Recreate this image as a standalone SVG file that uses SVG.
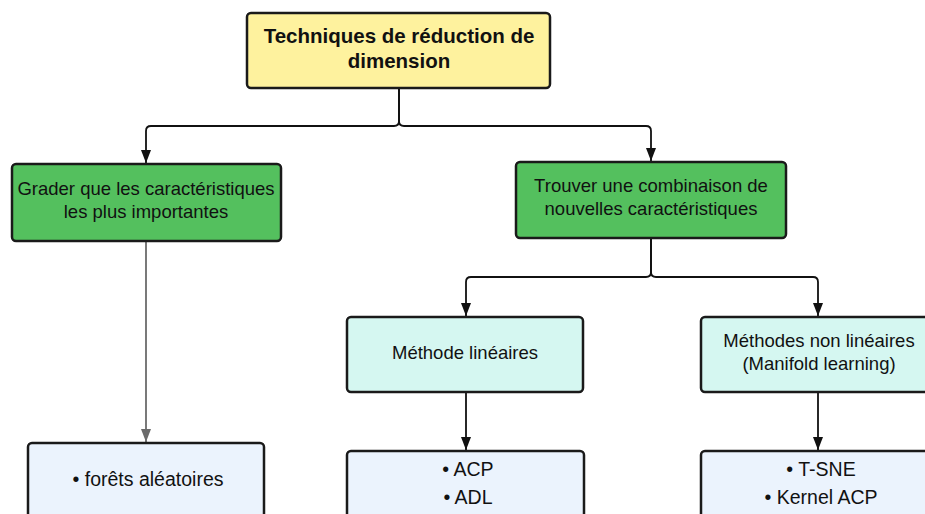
<svg xmlns="http://www.w3.org/2000/svg" width="925" height="514" viewBox="0 0 925 514">
  <defs>
    <style>
      .box { stroke: #1a1a1a; stroke-width: 2.5; }
      .root { fill: #fef29e; }
      .green { fill: #54c05e; }
      .cyan { fill: #d5f7f1; }
      .leaf { fill: #ebf3fd; }
      text { font-family: "Liberation Sans", Arial, sans-serif; font-size: 18.5px; fill: #111; text-anchor: middle; }
      .title { font-weight: bold; font-size: 20.5px; }
      .item { font-size: 19.5px; }
      .edge { fill: none; stroke: #111; stroke-width: 1.8; }
      .edge.grey { stroke: #6b6b6b; }
    </style>
    <marker id="arrow" viewBox="0 0 13 10" refX="13" refY="5" markerWidth="13" markerHeight="10" markerUnits="userSpaceOnUse" orient="auto">
      <path d="M0,0 L13,5 L0,10 z" fill="#111"/>
    </marker>
    <marker id="arrowGrey" viewBox="0 0 13 10" refX="13" refY="5" markerWidth="13" markerHeight="10" markerUnits="userSpaceOnUse" orient="auto">
      <path d="M0,0 L13,5 L0,10 z" fill="#6b6b6b"/>
    </marker>
  </defs>

  <g id="connectors">
    <path class="edge" d="M399,88 V121 Q399,126 394,126 H151 Q146,126 146,131 V163" marker-end="url(#arrow)"/>
    <path class="edge" d="M399,88 V121 Q399,126 404,126 H646 Q651,126 651,131 V161" marker-end="url(#arrow)"/>
    <path class="edge grey" d="M146,241 V442" marker-end="url(#arrowGrey)"/>
    <path class="edge" d="M651,238 V272 Q651,277 646,277 H471 Q466,277 466,282 V316" marker-end="url(#arrow)"/>
    <path class="edge" d="M651,238 V272 Q651,277 656,277 H813 Q818,277 818,282 V316" marker-end="url(#arrow)"/>
    <path class="edge" d="M466,392 V450" marker-end="url(#arrow)"/>
    <path class="edge" d="M818,392 V450" marker-end="url(#arrow)"/>
  </g>

  <g id="root">
    <rect class="box root" x="247" y="13" width="303" height="75" rx="4"/>
    <text class="title" x="399" y="43">Techniques de réduction de</text>
    <text class="title" x="399" y="68">dimension</text>
  </g>

  <g id="grader">
    <rect class="box green" x="12" y="164" width="269" height="77" rx="4"/>
    <text x="146" y="195">Grader que les caractéristiques</text>
    <text x="146" y="218">les plus importantes</text>
  </g>

  <g id="combinaison">
    <rect class="box green" x="516" y="162" width="270" height="76" rx="4"/>
    <text x="651" y="192">Trouver une combinaison de</text>
    <text x="651" y="215">nouvelles caractéristiques</text>
  </g>

  <g id="lineaires">
    <rect class="box cyan" x="347" y="317" width="236" height="75" rx="4"/>
    <text x="465" y="359">Méthode linéaires</text>
  </g>

  <g id="non-lineaires">
    <rect class="box cyan" x="701" y="317" width="236" height="75" rx="4"/>
    <text x="819" y="347">Méthodes non linéaires</text>
    <text x="819" y="370">(Manifold learning)</text>
  </g>

  <g id="forets">
    <rect class="box leaf" x="28" y="443" width="236" height="90" rx="4"/>
    <text class="item" x="148" y="486">• forêts aléatoires</text>
  </g>

  <g id="acp-adl">
    <rect class="box leaf" x="347" y="451" width="237" height="90" rx="4"/>
    <text class="item" x="468" y="476">• ACP</text>
    <text class="item" x="468" y="504">• ADL</text>
  </g>

  <g id="tsne-kernel">
    <rect class="box leaf" x="701" y="451" width="236" height="90" rx="4"/>
    <text class="item" x="821" y="476">• T-SNE</text>
    <text class="item" x="821" y="504">• Kernel ACP</text>
  </g>
</svg>
